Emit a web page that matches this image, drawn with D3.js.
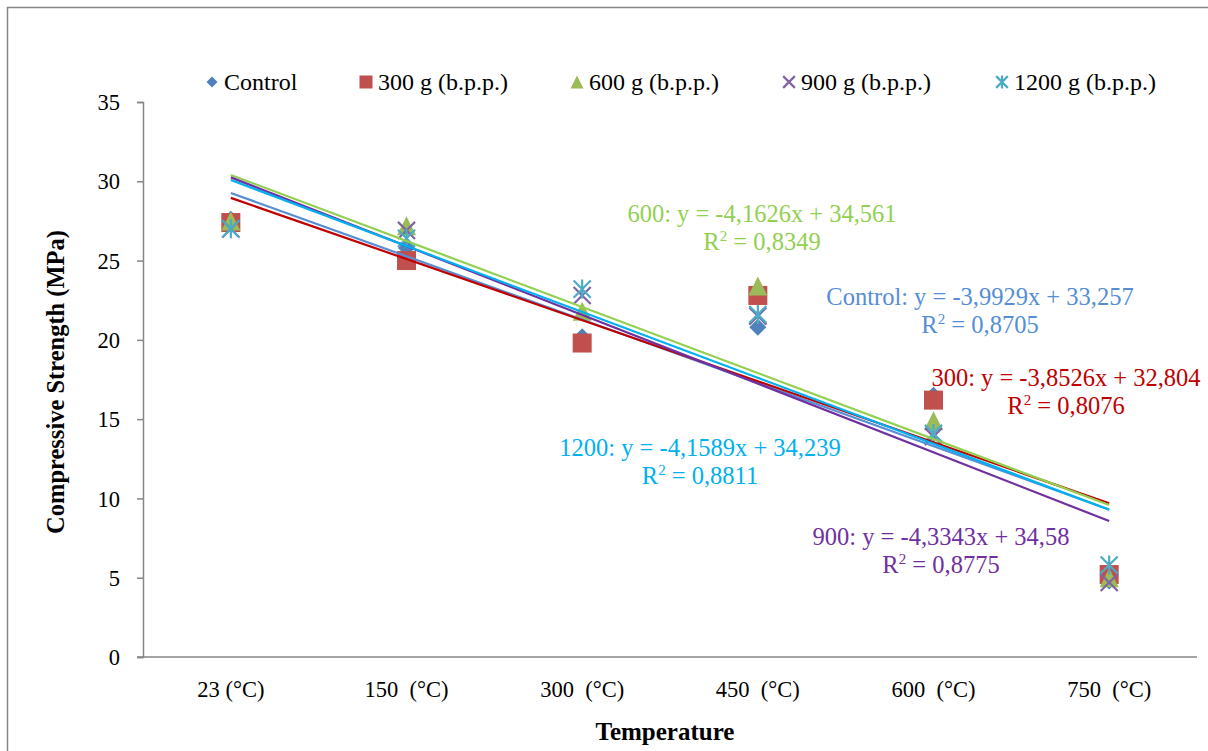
<!DOCTYPE html>
<meta charset="utf-8">
<html>
  <head>
    <title>Compressive strength vs temperature</title>
    <style>
      html, body { margin: 0; padding: 0; background: #fff; }
      text { font-family: 'Liberation Serif', 'Times New Roman', serif; fill: #000; }
      .tick-label { font-size: 22.5px; }
      .legend-label { font-size: 24px; }
      .axis-title { font-size: 25px; font-weight: bold; }
      .eq { font-size: 24.5px; }
    </style>
  </head>
  <body>
    <svg xmlns="http://www.w3.org/2000/svg"></svg>
    <script src="https://d3js.org/d3.v7.min.js"></script>
    <script type="text/javascript">
      var width = 1208, height = 751;

      // data
      var categories = ["23 (°C)", "150  (°C)", "300  (°C)", "450  (°C)", "600  (°C)", "750  (°C)"];
      var seriesNames = ["Control", "300 g (b.p.p.)", "600 g (b.p.p.)", "900 g (b.p.p.)", "1200 g (b.p.p.)"];
      var control = [27.6, 25.8, 20.2, 20.8, 16.5, 4.8];
      var g300 = [27.4, 25.0, 19.8, 22.8, 16.2, 5.2];
      var g600 = [27.5, 27.2, 21.8, 23.4, 14.9, 5.0];
      var g900 = [27.0, 26.9, 22.8, 21.5, 13.9, 4.7];
      var g1200 = [27.0, 26.4, 23.2, 21.6, 14.1, 5.8];
      var yTicks = [0, 5, 10, 15, 20, 25, 30, 35];

      // trendline equations as printed on the chart
      var eqPrefix = ["Control", "300", "600", "900", "1200"];
      var slopes = [-3.9929, -3.8526, -4.1626, -4.3343, -4.1589];
      var intercepts = [33.257, 32.804, 34.561, 34.58, 34.239];
      var slopeText = ["-3,9929", "-3,8526", "-4,1626", "-4,3343", "-4,1589"];
      var interceptText = ["33,257", "32,804", "34,561", "34,58", "34,239"];
      var r2Text = ["0,8705", "0,8076", "0,8349", "0,8775", "0,8811"];

      var allSeries = [control, g300, g600, g900, g1200];
      var markerColors = ["#4F81BD", "#C0504D", "#9BBB59", "#8064A2", "#4BACC6"];
      var trendColors = ["#558ED5", "#C00000", "#92D050", "#7030A0", "#00B0F0"];
      var markerShapes = ["diamond", "square", "triangle", "cross", "star"];

      var svg = d3.select('svg').attr('width', width).attr('height', height);

      // chart border
      svg.append('rect')
        .attr('x', 7.5).attr('y', 7.5)
        .attr('width', 1230).attr('height', 780)
        .attr('fill', 'none').attr('stroke', '#868686').attr('stroke-width', 1.5);

      var plot = { left: 143, right: 1197, top: 102, bottom: 657 };

      // categories sit at 1..6 (like Excel's line chart x values)
      var x = d3.scaleLinear().domain([0.5, 6.5]).range([plot.left, plot.right]);
      var y = d3.scaleLinear().domain([0, 35]).range([plot.bottom, plot.top]);

      // y axis
      var yAxis = svg.append('g').attr('transform', 'translate(' + plot.left + ',0)')
        .call(d3.axisLeft(y).tickValues(yTicks).tickSize(6).tickPadding(17));
      yAxis.select('.domain').attr('stroke', '#868686').attr('stroke-width', 1.5);
      yAxis.selectAll('.tick line').attr('stroke', '#868686').attr('stroke-width', 1.5);
      yAxis.selectAll('.tick text').attr('class', 'tick-label').attr('font-family', null).attr('font-size', null)
        .attr('dy', '0.34em');

      // x axis line
      svg.append('line')
        .attr('x1', plot.left - 6).attr('x2', plot.right)
        .attr('y1', plot.bottom).attr('y2', plot.bottom)
        .attr('stroke', '#868686').attr('stroke-width', 1.5);

      svg.append('g').selectAll('text').data(categories).enter()
        .append('text')
        .attr('class', 'tick-label')
        .attr('x', function (d, i) { return x(i + 1); })
        .attr('y', 697)
        .attr('text-anchor', 'middle')
        .style('white-space', 'pre')
        .attr('xml:space', 'preserve')
        .text(function (d) { return d; });

      // axis titles
      svg.append('text')
        .attr('class', 'axis-title')
        .attr('x', 665).attr('y', 740)
        .attr('text-anchor', 'middle')
        .text('Temperature');

      svg.append('text')
        .attr('class', 'axis-title')
        .attr('transform', 'translate(64,382) rotate(-90)')
        .attr('text-anchor', 'middle')
        .style('font-size', '24.5px')
        .text('Compressive Strength (MPa)');

      function drawMarker(g, shape, cx, cy, s, color) {
        var h = s / 2;
        if (shape === 'diamond') {
          g.append('path')
            .attr('d', 'M' + cx + ',' + (cy - h) + 'L' + (cx + h) + ',' + cy + 'L' + cx + ',' + (cy + h) + 'L' + (cx - h) + ',' + cy + 'Z')
            .attr('fill', color);
        } else if (shape === 'square') {
          g.append('rect')
            .attr('x', cx - h).attr('y', cy - h).attr('width', s).attr('height', s)
            .attr('fill', color);
        } else if (shape === 'triangle') {
          g.append('path')
            .attr('d', 'M' + cx + ',' + (cy - h) + 'L' + (cx + h) + ',' + (cy + h) + 'L' + (cx - h) + ',' + (cy + h) + 'Z')
            .attr('fill', color);
        } else {
          var k = h * 0.9;
          var d = 'M' + (cx - k) + ',' + (cy - k) + 'L' + (cx + k) + ',' + (cy + k) +
                  'M' + (cx - k) + ',' + (cy + k) + 'L' + (cx + k) + ',' + (cy - k);
          if (shape === 'star') d += 'M' + cx + ',' + (cy - h) + 'L' + cx + ',' + (cy + h);
          g.append('path').attr('d', d)
            .attr('stroke', color).attr('stroke-width', 2.2).attr('fill', 'none');
        }
      }

      // data markers
      var markerLayer = svg.append('g');
      allSeries.forEach(function (vals, si) {
        vals.forEach(function (v, i) {
          var sz = markerShapes[si] === 'diamond' ? 17 : 19;
          drawMarker(markerLayer, markerShapes[si], x(i + 1), y(v), sz, markerColors[si]);
        });
      });

      // linear trendlines, from category 1 to 6
      var trendLayer = svg.append('g');
      slopes.forEach(function (m, si) {
        trendLayer.append('line')
          .attr('x1', x(1)).attr('y1', y(m * 1 + intercepts[si]))
          .attr('x2', x(6)).attr('y2', y(m * 6 + intercepts[si]))
          .attr('stroke', trendColors[si]).attr('stroke-width', 2.2);
      });

      // equation labels
      var eqPos = [[980, 305], [1066, 386], [762, 222], [941, 545], [700, 456]];
      eqPrefix.forEach(function (p, si) {
        var t = svg.append('text')
          .attr('class', 'eq')
          .attr('text-anchor', 'middle')
          .style('fill', trendColors[si])
          .attr('x', eqPos[si][0]).attr('y', eqPos[si][1]);
        t.text(p + ': y = ' + slopeText[si] + 'x + ' + interceptText[si]);
        var r = svg.append('text')
          .attr('class', 'eq')
          .attr('text-anchor', 'middle')
          .style('fill', trendColors[si])
          .attr('x', eqPos[si][0]).attr('y', eqPos[si][1] + 28);
        r.append('tspan').text('R');
        r.append('tspan').attr('dy', -9).style('font-size', '15px').text('2');
        r.append('tspan').attr('dy', 9).text(' = ' + r2Text[si]);
      });

      // legend
      var legendX = [212, 366, 577, 789, 1002];
      var legend = svg.append('g');
      seriesNames.forEach(function (name, si) {
        var sz = markerShapes[si] === 'diamond' ? 11 : 13;
        drawMarker(legend, markerShapes[si], legendX[si], 82, sz, markerColors[si]);
        legend.append('text')
          .attr('class', 'legend-label')
          .attr('x', legendX[si] + 12)
          .attr('y', 90)
          .text(name);
      });
    </script>
  </body>
</html>
